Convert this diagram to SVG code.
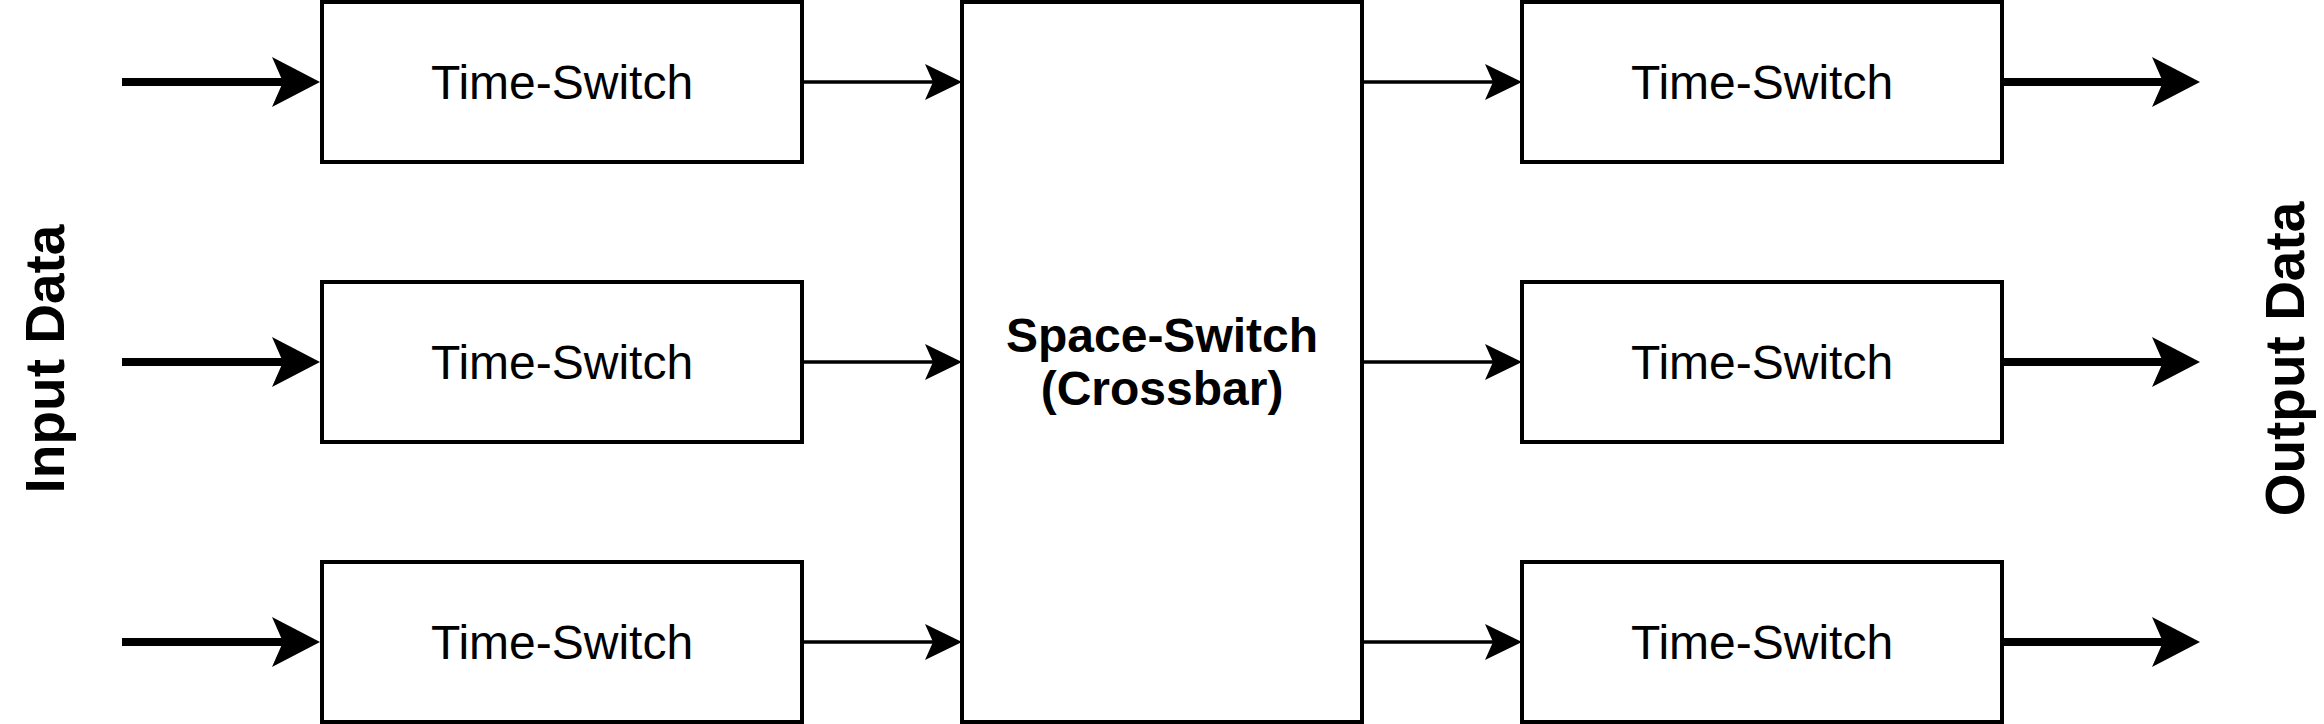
<svg xmlns="http://www.w3.org/2000/svg" width="2324" height="724" viewBox="0 0 2324 724">
  <style>
    .box { fill: #ffffff; stroke: #000000; stroke-width: 4; }
    .lbl { font-family: "Liberation Sans", Arial, sans-serif; font-size: 48px; fill: #000000; text-anchor: middle; }
    .bold { font-weight: bold; }
    .side { font-family: "Liberation Sans", Arial, sans-serif; font-size: 55px; font-weight: bold; fill: #000000; text-anchor: middle; }
    .thick { stroke: #000000; stroke-width: 8; fill: none; marker-end: url(#headBig); }
    .thin { stroke: #000000; stroke-width: 3.5; fill: none; marker-end: url(#headSmall); }
  </style>
  <defs>
    <marker id="headBig" viewBox="0 -25 48 50" markerWidth="48" markerHeight="50" refX="11" refY="0" orient="auto" markerUnits="userSpaceOnUse" overflow="visible">
      <path d="M0,-25 L48,0 L0,25 L11,0 Z" fill="#000000"/>
    </marker>
    <marker id="headSmall" viewBox="0 -18 37 36" markerWidth="37" markerHeight="36" refX="8" refY="0" orient="auto" markerUnits="userSpaceOnUse" overflow="visible">
      <path d="M0,-18 L37,0 L0,18 L8,0 Z" fill="#000000"/>
    </marker>
  </defs>
  <rect width="2324" height="724" fill="#ffffff"/>

  <g id="connectors">
    <line class="thick" x1="122" y1="82" x2="283" y2="82"/>
    <line class="thick" x1="122" y1="362" x2="283" y2="362"/>
    <line class="thick" x1="122" y1="642" x2="283" y2="642"/>
    <line class="thin" x1="802" y1="82" x2="933" y2="82"/>
    <line class="thin" x1="802" y1="362" x2="933" y2="362"/>
    <line class="thin" x1="802" y1="642" x2="933" y2="642"/>
    <line class="thin" x1="1362" y1="82" x2="1493" y2="82"/>
    <line class="thin" x1="1362" y1="362" x2="1493" y2="362"/>
    <line class="thin" x1="1362" y1="642" x2="1493" y2="642"/>
    <line class="thick" x1="2002" y1="82" x2="2163" y2="82"/>
    <line class="thick" x1="2002" y1="362" x2="2163" y2="362"/>
    <line class="thick" x1="2002" y1="642" x2="2163" y2="642"/>
  </g>

  <g id="ts-in-1">
    <rect class="box" x="322" y="2" width="480" height="160"/>
    <text class="lbl" x="562" y="99">Time-Switch</text>
  </g>
  <g id="ts-in-2">
    <rect class="box" x="322" y="282" width="480" height="160"/>
    <text class="lbl" x="562" y="379">Time-Switch</text>
  </g>
  <g id="ts-in-3">
    <rect class="box" x="322" y="562" width="480" height="160"/>
    <text class="lbl" x="562" y="659">Time-Switch</text>
  </g>

  <g id="space-switch">
    <rect class="box" x="962" y="2" width="400" height="720"/>
    <text class="lbl bold" x="1162" y="352">Space-Switch</text>
    <text class="lbl bold" x="1162" y="405">(Crossbar)</text>
  </g>

  <g id="ts-out-1">
    <rect class="box" x="1522" y="2" width="480" height="160"/>
    <text class="lbl" x="1762" y="99">Time-Switch</text>
  </g>
  <g id="ts-out-2">
    <rect class="box" x="1522" y="282" width="480" height="160"/>
    <text class="lbl" x="1762" y="379">Time-Switch</text>
  </g>
  <g id="ts-out-3">
    <rect class="box" x="1522" y="562" width="480" height="160"/>
    <text class="lbl" x="1762" y="659">Time-Switch</text>
  </g>

  <g id="input-label">
    <text class="side" transform="translate(64,359) rotate(-90)">Input Data</text>
  </g>
  <g id="output-label">
    <text class="side" transform="translate(2304,359) rotate(-90)">Output Data</text>
  </g>
</svg>
